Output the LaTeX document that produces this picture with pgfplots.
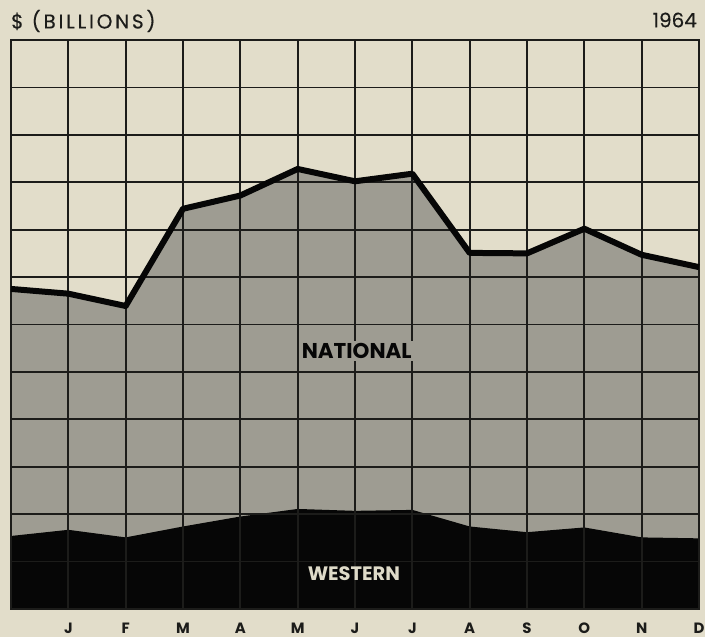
\documentclass[border=0pt]{standalone}
\usepackage{pgfplots}
\pgfplotsset{compat=1.18}
\usepackage{pgfplotstable}
\usepackage{fontspec}
\setmainfont{Poppins}
\definecolor{cream}{RGB}{226,221,202}
\definecolor{natgray}{RGB}{158,156,146}
\definecolor{gridc}{RGB}{28,28,26}
\definecolor{westblack}{RGB}{6,6,6}
\definecolor{westtext}{RGB}{222,218,200}

\pgfplotstableread{
x nat west
0 6.75 1.54
1 6.65 1.67
2 6.39 1.51
3 8.44 1.74
4 8.72 1.95
5 9.28 2.11
6 9.02 2.07
7 9.18 2.09
8 7.51 1.74
9 7.50 1.62
10 8.02 1.72
11 7.47 1.51
12 7.21 1.49
}\data

\begin{document}
\begin{tikzpicture}
\fill[cream] (-11bp,-28bp) rectangle (694bp,609bp);
\begin{axis}[
  at={(0,0)}, anchor=south west,
  scale only axis, width=688bp, height=569bp,
  xmin=0, xmax=12, ymin=0, ymax=12,
  xtick={1,...,12},
  xticklabels={J,F,M,A,M,J,J,A,S,O,N,D},
  ytick={0,...,12}, yticklabels={},
  grid=major,
  major grid style={gridc, line width=1.7bp},
  major tick length=0pt,
  axis line style={gridc, line width=1.8bp},
  axis on top,
  xticklabel style={anchor=center, yshift=-19bp, font=\bfseries\fontsize{15}{15}\selectfont, text=gridc},
]
\addplot[draw=none, fill=natgray] table[x=x, y=nat] {\data} \closedcycle;
\addplot[draw=none, fill=westblack] table[x=x, y=west] {\data} \closedcycle;
\coordinate (natlbl) at (axis cs:6.03,5.44);
\coordinate (westlbl) at (axis cs:5.98,0.74);
\end{axis}
\begin{axis}[
  at={(0,0)}, anchor=south west,
  scale only axis, width=688bp, height=569bp,
  xmin=0, xmax=12, ymin=0, ymax=12,
  hide axis, clip=false,
]
\addplot[westblack, line width=6bp, line join=round] table[x=x, y=nat] {\data};
\end{axis}
\node[fill=natgray, inner sep=2bp, text=westblack, font=\bfseries\fontsize{21.5}{21.5}\selectfont] at (natlbl) {NATIONAL};
\node[inner sep=0pt, text=westtext, font=\bfseries\fontsize{19.5}{19.5}\selectfont] at (westlbl) {WESTERN};
\node[anchor=west, inner sep=0pt, text=gridc, font=\addfontfeatures{LetterSpace=14,FakeBold=0.4}\fontsize{20}{20}\selectfont] at (0bp,588bp) {\$ (BILLIONS)};
\node[anchor=east, inner sep=0pt, text=gridc, font=\addfontfeatures{FakeBold=0.4}\fontsize{20}{20}\selectfont] at (686bp,589bp) {1964};
\pgfresetboundingbox
\path[use as bounding box] (-11bp,-28bp) rectangle (694bp,609bp);
\end{tikzpicture}
\end{document}
